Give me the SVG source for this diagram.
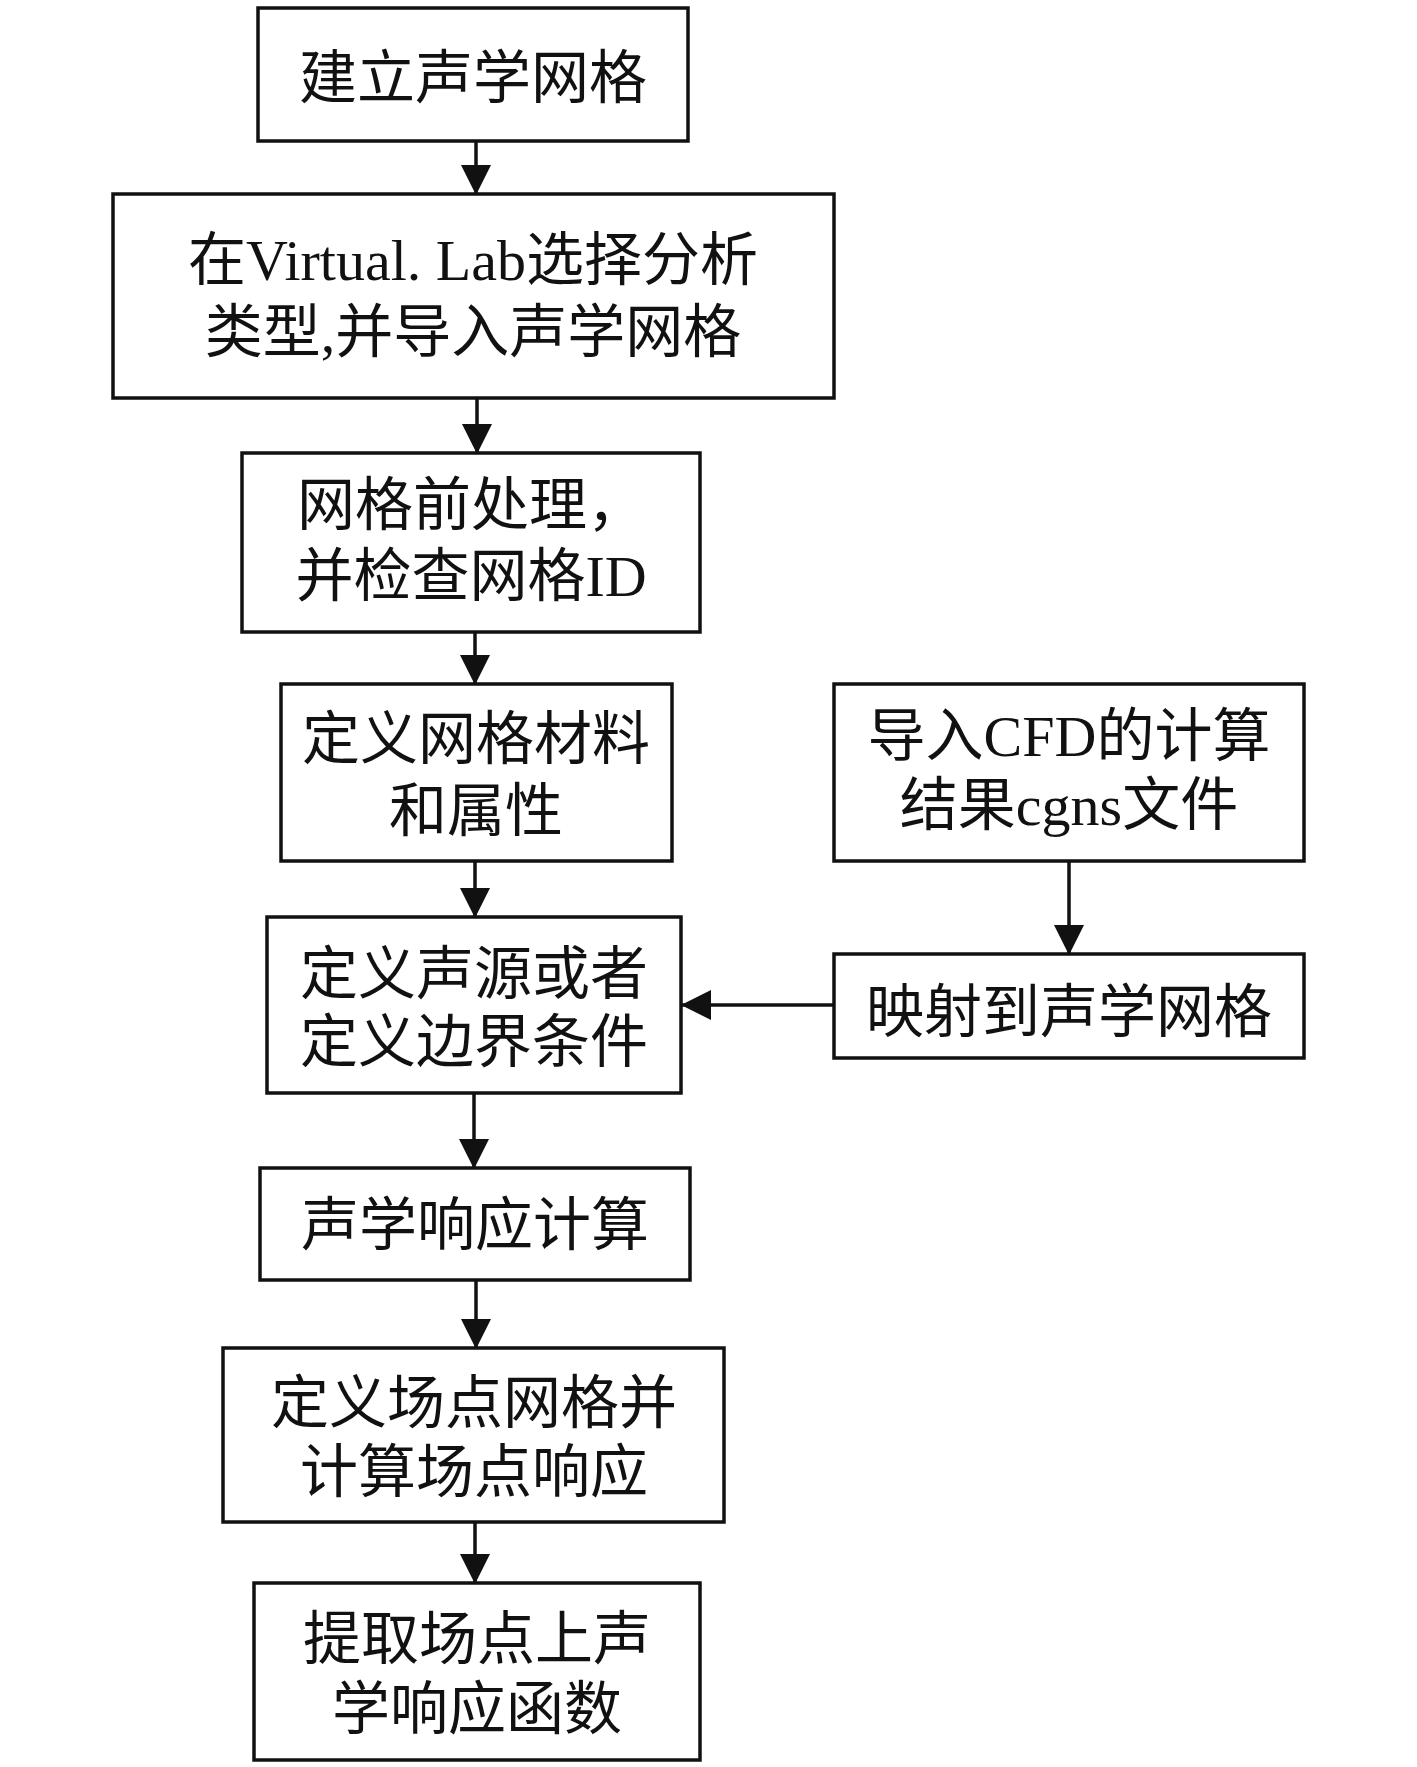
<svg xmlns="http://www.w3.org/2000/svg" width="1417" height="1767" viewBox="0 0 1417 1767">
<defs>
<marker id="ah" markerUnits="userSpaceOnUse" markerWidth="30" markerHeight="30" refX="29" refY="15" orient="auto" viewBox="0 0 30 30">
<path d="M0,0 L30,15 L0,30 z" fill="#111"/>
</marker>
<style>
.box{fill:#fff;stroke:#111;stroke-width:3.5}
.t{font-family:"Liberation Serif","Noto Sans CJK SC",serif;font-size:58px;fill:#111;text-anchor:middle}
.c{stroke:#111;stroke-width:3.5;fill:none;marker-end:url(#ah)}
</style>
</defs>
<rect width="1417" height="1767" fill="#fff"/>
<g id="connectors">
<line class="c" x1="476" y1="141" x2="476" y2="194"/>
<line class="c" x1="477" y1="398" x2="477" y2="453"/>
<line class="c" x1="475" y1="632" x2="475" y2="684"/>
<line class="c" x1="475" y1="861" x2="475" y2="917"/>
<line class="c" x1="1069" y1="861" x2="1069" y2="954"/>
<line class="c" x1="834" y1="1005" x2="682" y2="1005"/>
<line class="c" x1="474" y1="1093" x2="474" y2="1168"/>
<line class="c" x1="476" y1="1280" x2="476" y2="1348"/>
<line class="c" x1="475" y1="1522" x2="475" y2="1583"/>
</g>
<g id="n1"><rect class="box" x="258" y="8" width="430" height="133"/><text class="t" x="473" y="98">建立声学网格</text></g>
<g id="n2"><rect class="box" x="113" y="194" width="721" height="204"/><text class="t" x="473" y="280">在Virtual. Lab选择分析</text><text class="t" x="473" y="352">类型,并导入声学网格</text></g>
<g id="n3"><rect class="box" x="242" y="453" width="458" height="179"/><text class="t" x="471" y="525">网格前处理，</text><text class="t" x="471" y="596">并检查网格ID</text></g>
<g id="n4"><rect class="box" x="281" y="684" width="391" height="177"/><text class="t" x="476" y="759">定义网格材料</text><text class="t" x="476" y="831">和属性</text></g>
<g id="n5"><rect class="box" x="834" y="684" width="470" height="177"/><text class="t" x="1069" y="756">导入CFD的计算</text><text class="t" x="1069" y="825">结果cgns文件</text></g>
<g id="n6"><rect class="box" x="267" y="917" width="414" height="176"/><text class="t" x="474" y="994">定义声源或者</text><text class="t" x="474" y="1062">定义边界条件</text></g>
<g id="n7"><rect class="box" x="834" y="954" width="470" height="104"/><text class="t" x="1069" y="1032">映射到声学网格</text></g>
<g id="n8"><rect class="box" x="260" y="1168" width="430" height="112"/><text class="t" x="475" y="1245">声学响应计算</text></g>
<g id="n9"><rect class="box" x="223" y="1348" width="501" height="174"/><text class="t" x="474" y="1423">定义场点网格并</text><text class="t" x="474" y="1492">计算场点响应</text></g>
<g id="n10"><rect class="box" x="254" y="1583" width="446" height="177"/><text class="t" x="477" y="1659">提取场点上声</text><text class="t" x="477" y="1729">学响应函数</text></g>
</svg>
